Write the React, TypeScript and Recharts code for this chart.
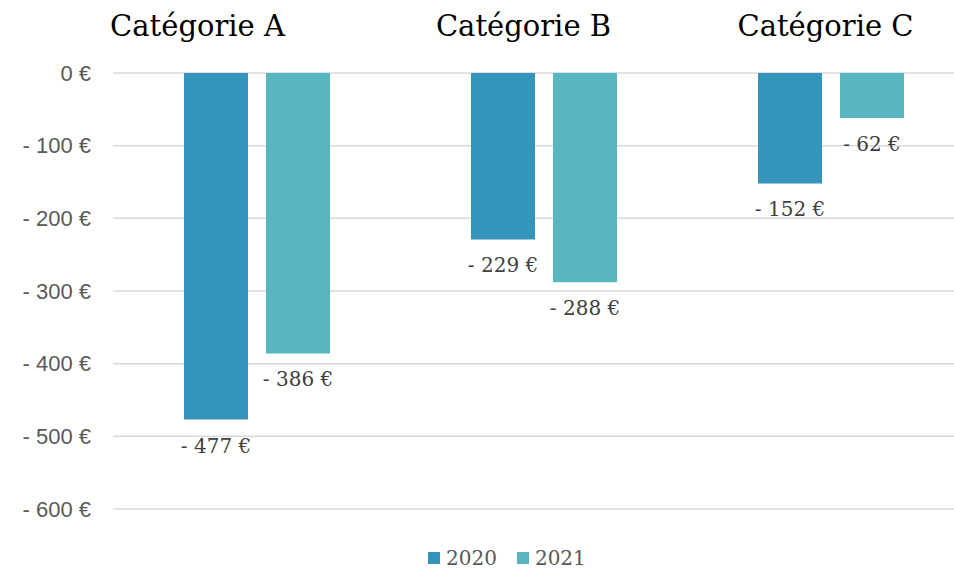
import React from "react"
import { BarChart, Bar, XAxis, YAxis, CartesianGrid, Legend, LabelList } from "recharts"

const categories = ["Catégorie A", "Catégorie B", "Catégorie C"]
const values2020 = [-477, -229, -152]
const values2021 = [-386, -288, -62]
const yTicks = [0, -100, -200, -300, -400, -500, -600]
const seriesNames = ["2020", "2021"]

const data = categories.map((name, i) => ({
  name,
  y2020: values2020[i],
  y2021: values2021[i],
}))

const COLOR_2020 = "#3494BA"
const COLOR_2021 = "#58B6C0"
const SERIF = "'DejaVu Serif', serif"
const SANS = "'Liberation Sans', Arial, sans-serif"

// category titles are not centred on their bands in the original
const titleShift: Record<string, number> = {
  "Catégorie A": -59,
  "Catégorie B": -20,
  "Catégorie C": -5,
}

const euro = (v: number) => (v === 0 ? "0 €" : `- ${Math.abs(v)} €`)

function CategoryTick(props: any) {
  const { x, y, payload } = props
  return (
    <text
      x={x + (titleShift[payload.value] || 0)}
      y={y}
      textAnchor="middle"
      fill="#000000"
      fontFamily={SERIF}
      fontSize={29}
    >
      {payload.value}
    </text>
  )
}

function ValueLabel(props: any) {
  const { x, y, width, height, value } = props
  const end = Math.max(y, y + height)
  return (
    <text
      x={x + width / 2}
      y={end + 33}
      textAnchor="middle"
      fill="#404040"
      fontFamily={SERIF}
      fontSize={20}
    >
      {euro(value)}
    </text>
  )
}

function LegendContent() {
  const colors = [COLOR_2020, COLOR_2021]
  return (
    <div style={{ height: 60, position: "relative" }}>
      <div
        style={{
          position: "absolute",
          top: 39,
          left: 428,
          display: "flex",
          alignItems: "center",
          height: 20,
        }}
      >
        {seriesNames.map((n, i) => (
          <div key={n} style={{ display: "flex", alignItems: "center", marginRight: 20 }}>
            <div style={{ width: 12, height: 12, background: colors[i], marginRight: 6 }} />
            <span style={{ fontFamily: SERIF, fontSize: 20, color: "#595959", lineHeight: "20px" }}>
              {n}
            </span>
          </div>
        ))}
      </div>
    </div>
  )
}

export default function App() {
  return (
    <div
      style={{
        position: "absolute",
        left: 0,
        top: 0,
        width: 954,
        height: 569,
        overflow: "hidden",
        background: "#ffffff",
      }}
    >
      <BarChart
        width={974}
        height={569}
        data={data}
        margin={{ top: 0, right: 0, bottom: 0, left: 0 }}
        barSize={64}
        barGap={18}
      >
        <CartesianGrid vertical={false} stroke="#d9d9d9" strokeWidth={1.5} />
        <XAxis
          dataKey="name"
          orientation="top"
          height={73}
          axisLine={false}
          tickLine={false}
          tickSize={0}
          tickMargin={37}
          tick={<CategoryTick />}
          interval={0}
        />
        <YAxis
          width={113}
          domain={[-600, 0]}
          ticks={yTicks}
          axisLine={false}
          tickLine={false}
          tickSize={0}
          tickMargin={22}
          tickFormatter={euro}
          tick={{ fill: "#595959", fontSize: 22, fontFamily: SANS }}
        />
        <Legend verticalAlign="bottom" content={<LegendContent />} />
        <Bar dataKey="y2020" name={seriesNames[0]} fill={COLOR_2020} isAnimationActive={false}>
          <LabelList dataKey="y2020" content={<ValueLabel />} />
        </Bar>
        <Bar dataKey="y2021" name={seriesNames[1]} fill={COLOR_2021} isAnimationActive={false}>
          <LabelList dataKey="y2021" content={<ValueLabel />} />
        </Bar>
      </BarChart>
    </div>
  )
}
